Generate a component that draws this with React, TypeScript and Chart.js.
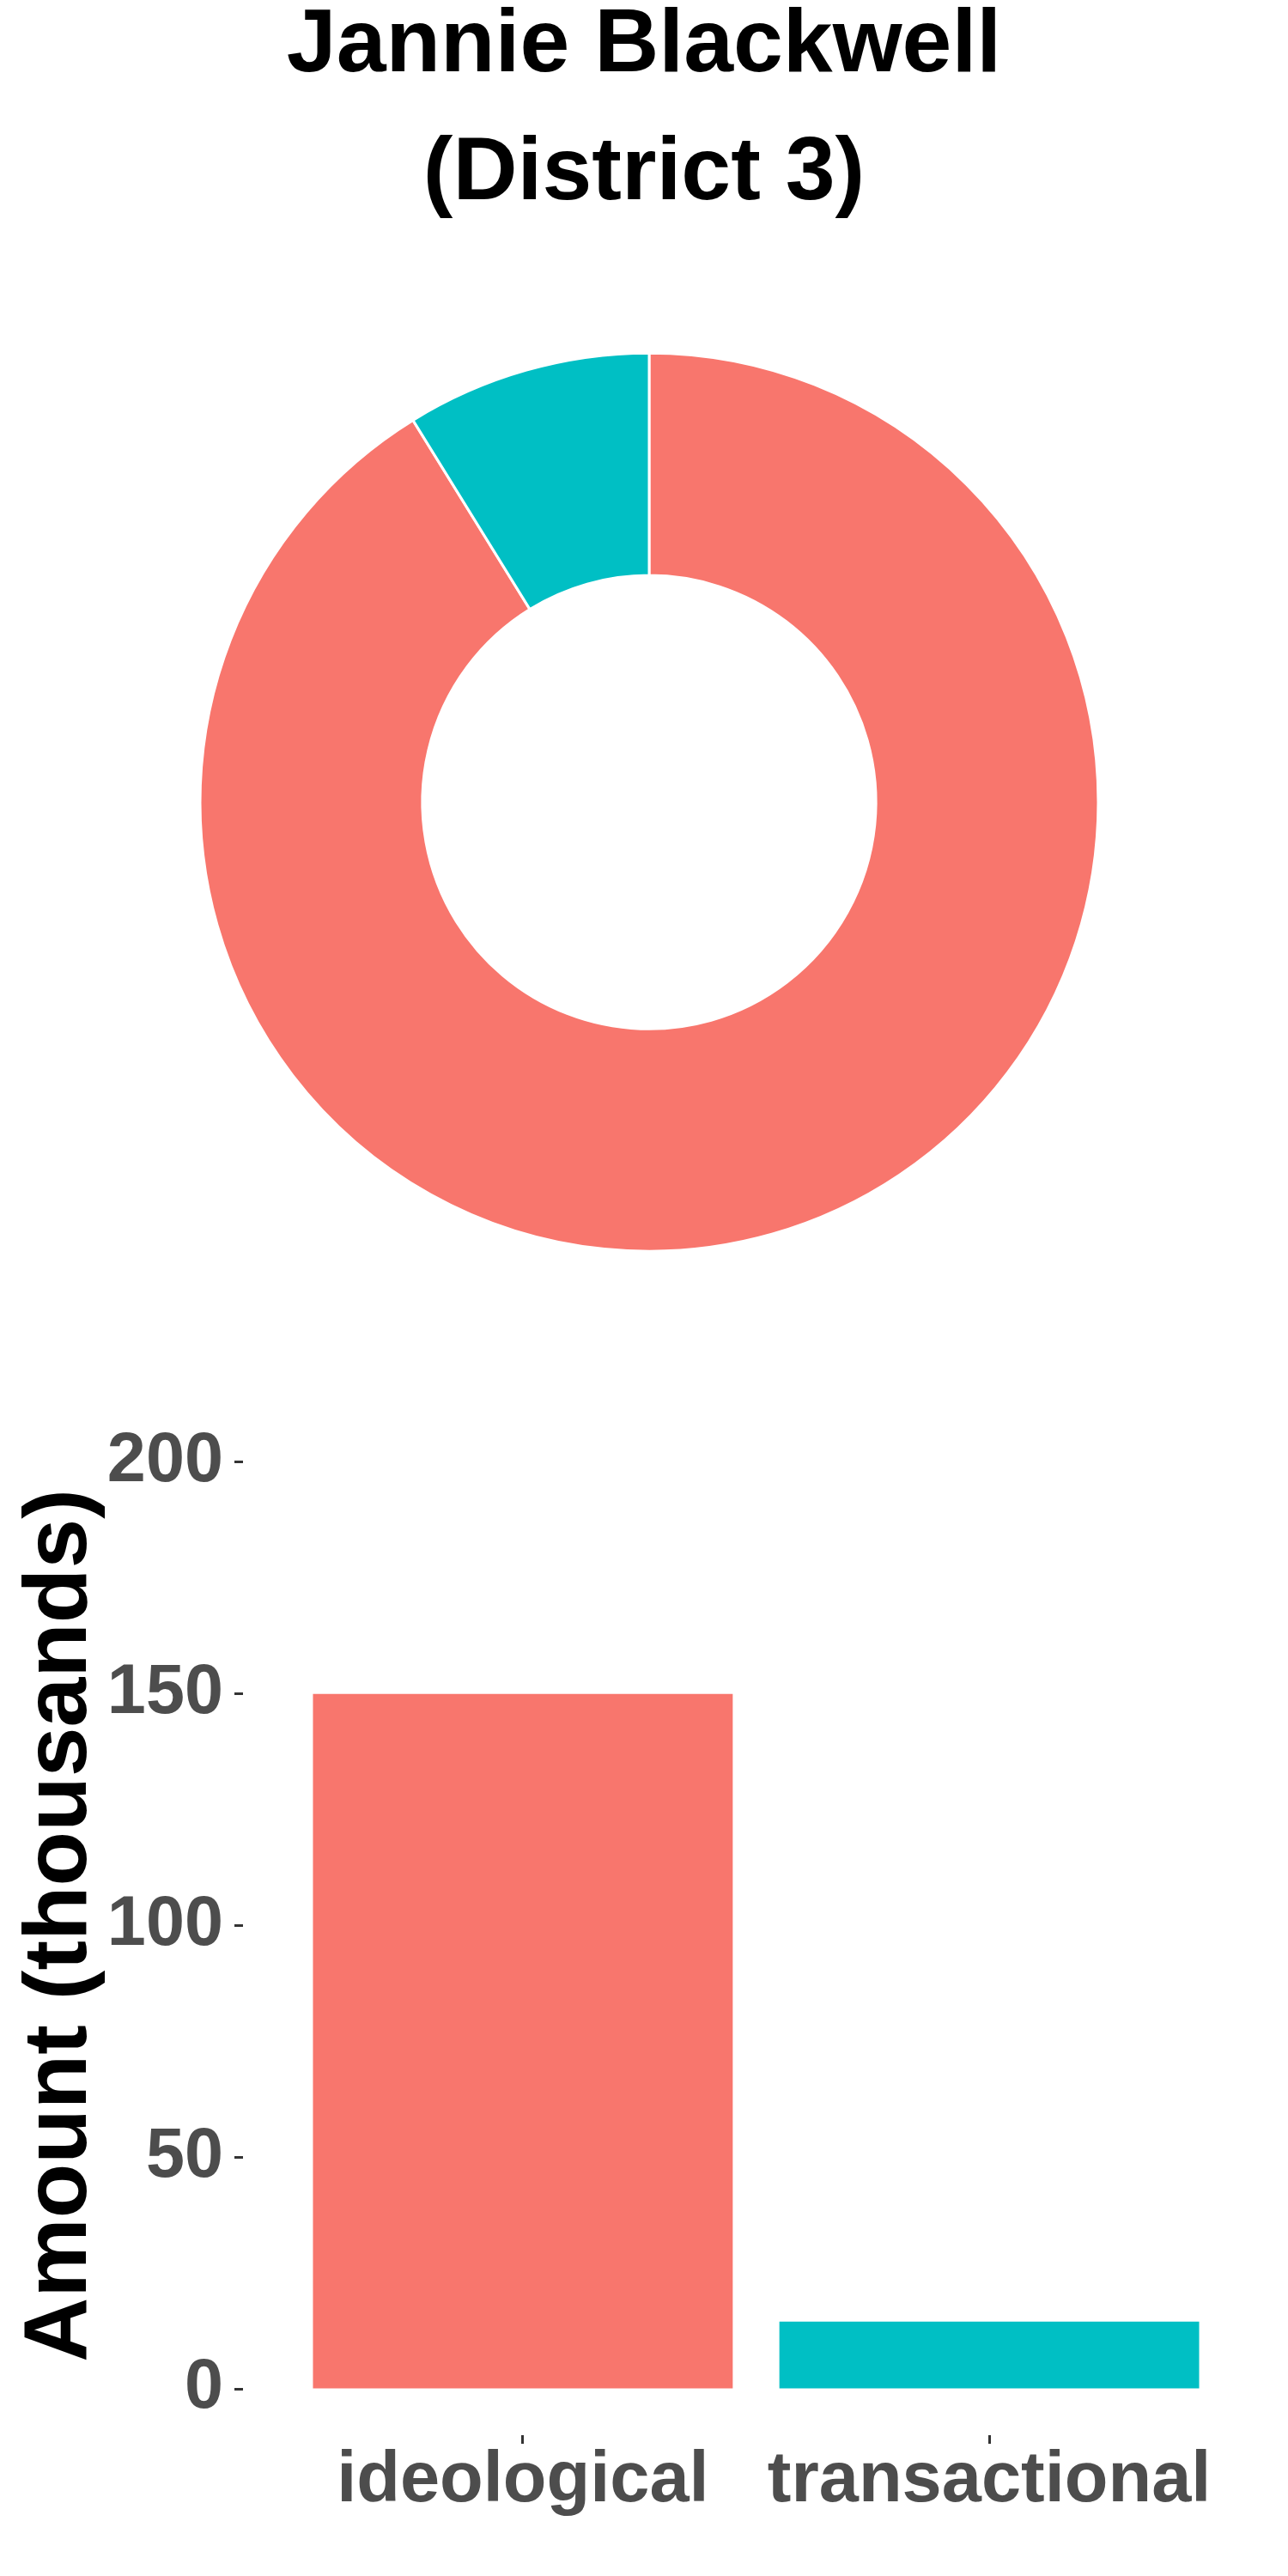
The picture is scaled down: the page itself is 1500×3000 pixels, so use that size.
import React, { useEffect, useRef } from "react";
import { Chart, registerables } from "chart.js";

Chart.register(...registerables);

const categories = ["ideological", "transactional"];
const amounts = [150, 14.5];
const colors = ["#F8766D", "#00BFC4"];
const yTicks = [0, 50, 100, 150, 200];
const titleLines = ["Jannie Blackwell", "(District 3)"];
const yTitle = "Amount (thousands)";

const FONT = "'Liberation Sans', Arial, Helvetica, sans-serif";

const shiftTitle = {
  id: "shiftTitle",
  afterLayout(chart: any) {
    const t = chart.titleBlock;
    if (t) {
      t.left -= 6;
      t.right -= 6;
    }
  },
};

function Donut() {
  const ref = useRef<HTMLCanvasElement>(null);
  useEffect(() => {
    const chart = new Chart(ref.current as HTMLCanvasElement, {
      type: "doughnut",
      data: {
        labels: categories,
        datasets: [
          {
            data: amounts,
            backgroundColor: colors,
            borderColor: "#FFFFFF",
            borderWidth: 3,
            hoverOffset: 0,
            radius: 523,
            cutout: "50.5%",
          } as any,
        ],
      },
      options: {
        responsive: false,
        animation: false,
        layout: { padding: { left: 12, top: 0, right: 0, bottom: 9 } },
        plugins: {
          legend: { display: false },
          tooltip: { enabled: false },
          title: {
            display: true,
            text: titleLines,
            color: "#000000",
            font: { family: FONT, size: 104, weight: "bold", lineHeight: 1.43 },
            padding: { top: 0, bottom: 100 },
          },
        },
      } as any,
      plugins: [shiftTitle],
    });
    return () => chart.destroy();
  }, []);
  return (
    <canvas
      ref={ref}
      width={1500}
      height={1520}
      style={{ position: "absolute", left: 0, top: -20, width: 1500, height: 1520 }}
    />
  );
}

function Bars() {
  const ref = useRef<HTMLCanvasElement>(null);
  useEffect(() => {
    const chart = new Chart(ref.current as HTMLCanvasElement, {
      type: "bar",
      data: {
        datasets: [
          {
            data: categories.map((c, i) => ({ x: i + 1, y: amounts[i] })),
            backgroundColor: colors,
            borderWidth: 0,
            barPercentage: 0.9,
            categoryPercentage: 1,
          },
        ],
      },
      options: {
        responsive: false,
        animation: false,
        layout: { padding: { top: 149, right: 22, left: 0, bottom: 0 } },
        plugins: {
          legend: { display: false },
          tooltip: { enabled: false },
          title: { display: false },
        },
        scales: {
          x: {
            type: "linear",
            offset: false,
            min: 0.4,
            max: 2.6,
            afterBuildTicks: (s: any) => {
              s.ticks = categories.map((_, i) => ({ value: i + 1 }));
            },
            ticks: {
              callback: (_v: any, i: number) => categories[i] ?? "",
              font: { family: FONT, size: 83, weight: "bold", lineHeight: 1 },
              color: "#4D4D4D",
              padding: 3,
              maxRotation: 0,
              minRotation: 0,
              autoSkip: false,
            },
            grid: {
              offset: false,
              drawOnChartArea: false,
              drawTicks: true,
              tickLength: 10,
              tickColor: "#333333",
              tickWidth: 3,
            },
            border: { display: false },
            afterFit: (s: any) => {
              s.height = 164;
            },
          },
          y: {
            type: "linear",
            min: -10,
            max: 210,
            afterBuildTicks: (s: any) => {
              s.ticks = yTicks.map((v) => ({ value: v }));
            },
            ticks: {
              callback: (v: any) => String(v),
              font: { family: FONT, size: 81, weight: "bold", lineHeight: 1 },
              color: "#4D4D4D",
              padding: 13,
            },
            grid: {
              drawOnChartArea: false,
              drawTicks: true,
              tickLength: 10,
              tickColor: "#333333",
              tickWidth: 3,
            },
            border: { display: false },
            title: {
              display: true,
              text: yTitle,
              color: "#000000",
              font: { family: FONT, size: 104, weight: "bold", lineHeight: 1 },
              padding: { top: 19, bottom: 0 },
            },
            afterFit: (s: any) => {
              s.width = 283;
            },
          },
        },
      } as any,
    });
    return () => chart.destroy();
  }, []);
  return (
    <canvas
      ref={ref}
      width={1500}
      height={1500}
      style={{ position: "absolute", left: 0, top: 1500, width: 1500, height: 1500 }}
    />
  );
}

export default function App() {
  return (
    <div style={{ position: "absolute", left: 0, top: 0, width: 1500, height: 3000, background: "#FFFFFF", overflow: "hidden" }}>
      <Donut />
      <Bars />
    </div>
  );
}
